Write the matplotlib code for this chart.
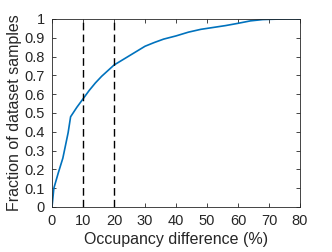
import numpy as np
import matplotlib
matplotlib.use('Agg')
import matplotlib.pyplot as plt

# CDF of occupancy difference
occ_diff = [0, 0.6, 2, 3.5, 5.2, 6.0, 8, 10, 12, 14, 16, 18, 20, 22, 24, 26, 28, 30,
            33, 36, 40, 44, 48, 52, 56, 60, 64, 68, 72, 76, 80]
fraction = [0, 0.10, 0.18, 0.26, 0.395, 0.48, 0.53, 0.575, 0.62, 0.66, 0.695, 0.725,
            0.755, 0.775, 0.795, 0.815, 0.835, 0.855, 0.875, 0.893, 0.91, 0.93, 0.945,
            0.955, 0.965, 0.977, 0.99, 0.997, 0.999, 1.0, 1.0]
thresholds = [10, 20]
xticks = list(range(0, 81, 10))
yticks = [0, 0.1, 0.2, 0.3, 0.4, 0.5, 0.6, 0.7, 0.8, 0.9, 1]
ylabels = ['0', '0.1', '0.2', '0.3', '0.4', '0.5', '0.6', '0.7', '0.8', '0.9', '1']

plt.rcParams['font.family'] = ['Liberation Sans', 'DejaVu Sans']
plt.rcParams['font.size'] = 10.5

fig = plt.figure(figsize=(3.32, 2.52), dpi=100)
ax = fig.add_axes([52/332, 1-207/252, 248/332, 188/252])
ax.plot(occ_diff, fraction, '-', color='#0072BD', linewidth=1.2)
for t in thresholds:
    ax.axvline(t, color='black', linestyle=(0, (5.5, 3)), linewidth=1)

ax.set_xlim(0, 80)
ax.set_ylim(0, 1)
ax.set_xticks(xticks)
ax.set_yticks(yticks)
ax.set_yticklabels(ylabels)
ax.tick_params(direction='in', top=True, right=True, length=3, width=0.6,
               color='#262626', labelcolor='#262626', pad=5)
for s in ax.spines.values():
    s.set_color('#262626')
    s.set_linewidth(0.6)
ax.set_xlabel('Occupancy difference (%)', color='#262626', fontsize=11.5, labelpad=3)
ax.set_ylabel('Fraction of dataset samples', color='#262626', fontsize=11.5, labelpad=2)

fig.savefig('out.png', dpi=100)
